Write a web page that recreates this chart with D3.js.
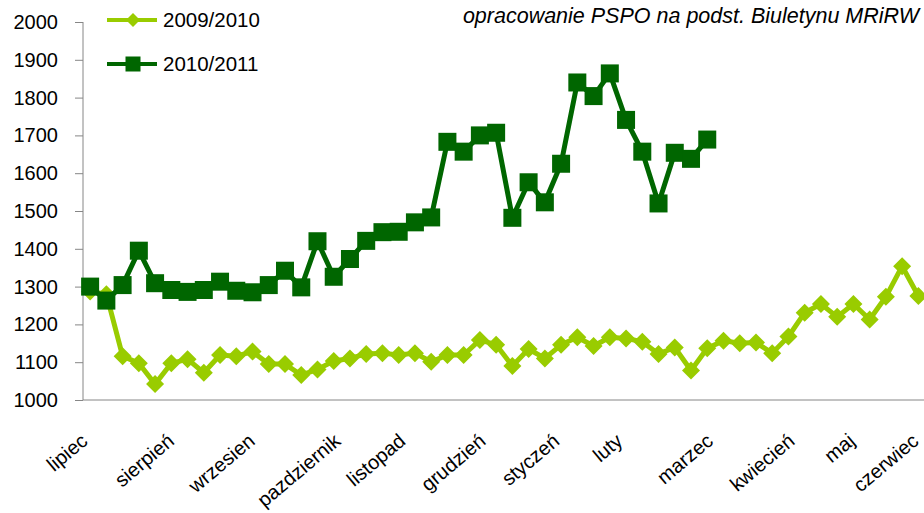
<!DOCTYPE html>
<html>
<head>
<meta charset="utf-8">
<script src="https://cdn.jsdelivr.net/npm/d3@7"></script>
<style>
  body { margin: 0; background: #fff; }
  svg { display: block; font-family: "Liberation Sans", Arial, sans-serif; }
</style>
</head>
<body>
<svg width="924" height="513"></svg>
<script>
var svg = d3.select("svg"),
    width = +svg.attr("width"),
    height = +svg.attr("height");

// weekly prices, season July - June
var weeks = d3.range(1, 53);
var months = ["lipiec", "sierpień", "wrzesien", "pazdziernik", "listopad", "grudzień",
              "styczeń", "luty", "marzec", "kwiecień", "maj", "czerwiec"];
var yTicks = [1000, 1100, 1200, 1300, 1400, 1500, 1600, 1700, 1800, 1900, 2000];

var season0910 = [1287, 1280, 1116, 1097, 1042, 1097, 1108, 1072, 1119, 1116, 1128, 1095, 1095,
                  1066, 1081, 1103, 1110, 1122, 1124, 1119, 1124, 1101, 1119, 1119, 1159, 1146,
                  1090, 1135, 1110, 1146, 1166, 1143, 1166, 1163, 1154, 1122, 1139, 1078, 1137,
                  1157, 1150, 1152, 1124, 1168, 1231, 1254, 1220, 1254, 1213, 1273, 1354, 1275];
var season1011 = [1300, 1263, 1304, 1395, 1309, 1291, 1286, 1291, 1313, 1289, 1285, 1304, 1342,
                  1298, 1420, 1326, 1373, 1421, 1444, 1445, 1470, 1483, 1683, 1657, 1700, 1707,
                  1482, 1576, 1523, 1625, 1840, 1804, 1864, 1741, 1657, 1520, 1654, 1638, 1689];

var series = [
  {name: "2009/2010", values: season0910, color: "#99cc00", marker: "diamond"},
  {name: "2010/2011", values: season1011, color: "#006600", marker: "square"}
];

var x = d3.scalePoint()
    .domain(weeks)
    .range([82, 926.5])
    .padding(0.5);

var y = d3.scaleLinear()
    .domain([1000, 2000])
    .range([400, 22]);

var axisColor = "#868686";

// y axis
var yAxis = svg.append("g")
    .attr("transform", "translate(83,0)")
    .call(d3.axisLeft(y).tickValues(yTicks).tickSize(8).tickPadding(17).tickFormat(d3.format("d")));
yAxis.select(".domain").remove();
yAxis.selectAll("line").attr("stroke", axisColor);
yAxis.selectAll("text")
    .attr("fill", "#000")
    .style("font-size", "20px");
svg.append("line")
    .attr("x1", 83).attr("x2", 83)
    .attr("y1", y(2000)).attr("y2", y(1000))
    .attr("stroke", axisColor);

// x axis line
svg.append("line")
    .attr("x1", 83).attr("x2", width)
    .attr("y1", y(1000)).attr("y2", y(1000))
    .attr("stroke", axisColor);

// month labels, rotated
var monthPos = d3.scalePoint()
    .domain(months)
    .range([71.5, 921]);
var ang = 40 * Math.PI / 180;
svg.append("g").selectAll("text")
    .data(months)
    .enter().append("text")
    .text(function(d) { return d; })
    .style("font-size", "20px")
    .attr("text-anchor", "end")
    .each(function(d) {
      var len = this.getComputedTextLength();
      var ex = monthPos(d) + len * Math.cos(ang) / 2;
      if (ex > width - 4) ex = width - 4;
      var ey = 443;
      d3.select(this)
        .attr("x", ex).attr("y", ey)
        .attr("transform", "rotate(-40," + ex + "," + ey + ")");
    });

var line = d3.line()
    .x(function(d, i) { return x(weeks[i]); })
    .y(function(d) { return y(d); });

function drawMarker(g, kind, color, cx, cy, s) {
  if (kind === "square") {
    g.append("rect")
      .attr("x", cx - s / 2).attr("y", cy - s / 2)
      .attr("width", s).attr("height", s)
      .attr("fill", color);
  } else {
    var h = s / 2;
    g.append("path")
      .attr("d", "M" + cx + "," + (cy - h) + "L" + (cx + h) + "," + cy + "L" + cx + "," + (cy + h) + "L" + (cx - h) + "," + cy + "Z")
      .attr("fill", color);
  }
}

series.forEach(function(s) {
  var g = svg.append("g");
  g.append("path")
    .datum(s.values)
    .attr("fill", "none")
    .attr("stroke", s.color)
    .attr("stroke-width", 5)
    .attr("stroke-linejoin", "round")
    .attr("d", line);
  s.values.forEach(function(v, i) {
    drawMarker(g, s.marker, s.color, x(weeks[i]), y(v), 18);
  });
});

// legend
var legend = svg.append("g");
series.forEach(function(s, i) {
  var ly = 20 + i * 44;
  legend.append("line")
    .attr("x1", 107).attr("x2", 157)
    .attr("y1", ly).attr("y2", ly)
    .attr("stroke", s.color)
    .attr("stroke-width", 4);
  drawMarker(legend, s.marker, s.color, 133, ly, s.marker === "square" ? 15 : 14);
  legend.append("text")
    .attr("x", 163).attr("y", ly + 7)
    .style("font-size", "20.5px")
    .text(s.name);
});

// source note
svg.append("text")
    .attr("x", 919).attr("y", 23)
    .attr("text-anchor", "end")
    .style("font-size", "21.5px")
    .style("font-style", "italic")
    .text("opracowanie PSPO na podst. Biuletynu MRiRW");
</script>
</body>
</html>
